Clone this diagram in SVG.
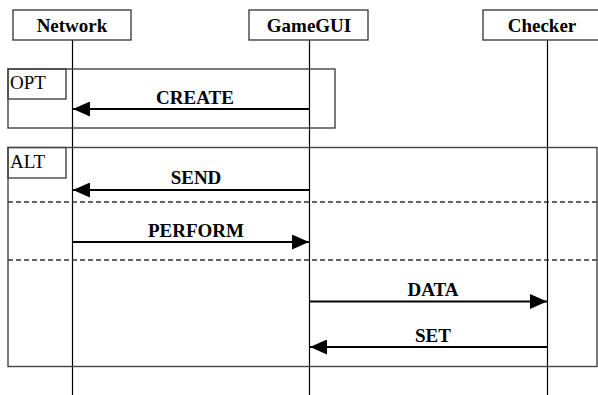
<svg xmlns="http://www.w3.org/2000/svg" width="598" height="395" viewBox="0 0 598 395">
<style>
.box{fill:#fff;stroke:#333;stroke-width:1.3}
.frame{fill:none;stroke:#444;stroke-width:1.4}
.life{stroke:#000;stroke-width:1.2}
.dash{stroke:#333;stroke-width:1.3;stroke-dasharray:5,3}
.msg{stroke:#000;stroke-width:2.2;fill:none}
.h{font-family:"Liberation Serif","Times New Roman",serif;font-weight:bold;font-size:19px;text-anchor:middle;fill:#000}
.l{font-family:"Liberation Serif","Times New Roman",serif;font-size:19px;fill:#000}
</style>
<defs>
<marker id="ah" markerWidth="17" markerHeight="15" refX="17" refY="7.5" orient="auto" markerUnits="userSpaceOnUse">
<path d="M0,0 L17,7.5 L0,15 Z" fill="#000"/>
</marker>
</defs>
<rect width="598" height="395" fill="#fff"/>
<g id="lifelines">
<line class="life" x1="72.5" y1="40" x2="72.5" y2="395"/>
<line class="life" x1="309.5" y1="40" x2="309.5" y2="395"/>
<line class="life" x1="547.5" y1="40" x2="547.5" y2="395"/>
</g>
<g id="Network"><rect class="box" x="13" y="10" width="118" height="30"/><text class="h" x="72" y="32">Network</text></g>
<g id="GameGUI"><rect class="box" x="249" y="10" width="119" height="30"/><text class="h" x="309" y="32">GameGUI</text></g>
<g id="Checker"><rect class="box" x="483" y="10" width="120" height="30"/><text class="h" x="542" y="32">Checker</text></g>
<g id="opt">
<rect class="frame" x="8" y="69" width="327" height="59"/>
<rect class="frame" x="8" y="69" width="58" height="30"/>
<text class="l" x="10" y="89">OPT</text>
</g>
<g id="alt">
<rect class="frame" x="8" y="147.5" width="589" height="219"/>
<rect class="frame" x="8" y="147.5" width="58" height="30.5"/>
<text class="l" x="10" y="168">ALT</text>
<line class="dash" x1="8" y1="202" x2="597" y2="202"/>
<line class="dash" x1="8" y1="260" x2="597" y2="260"/>
</g>
<g id="connectors">
<line class="msg" x1="309" y1="109" x2="73" y2="109" marker-end="url(#ah)"/>
<text class="h" x="195" y="103.5">CREATE</text>
<line class="msg" x1="309" y1="190" x2="73" y2="190" marker-end="url(#ah)"/>
<text class="h" x="196" y="184">SEND</text>
<line class="msg" x1="73" y1="242" x2="309" y2="242" marker-end="url(#ah)"/>
<text class="h" x="196" y="237">PERFORM</text>
<line class="msg" x1="310" y1="301.5" x2="547" y2="301.5" marker-end="url(#ah)"/>
<text class="h" x="433" y="296">DATA</text>
<line class="msg" x1="547" y1="347" x2="310" y2="347" marker-end="url(#ah)"/>
<text class="h" x="433" y="342">SET</text>
</g>
</svg>
